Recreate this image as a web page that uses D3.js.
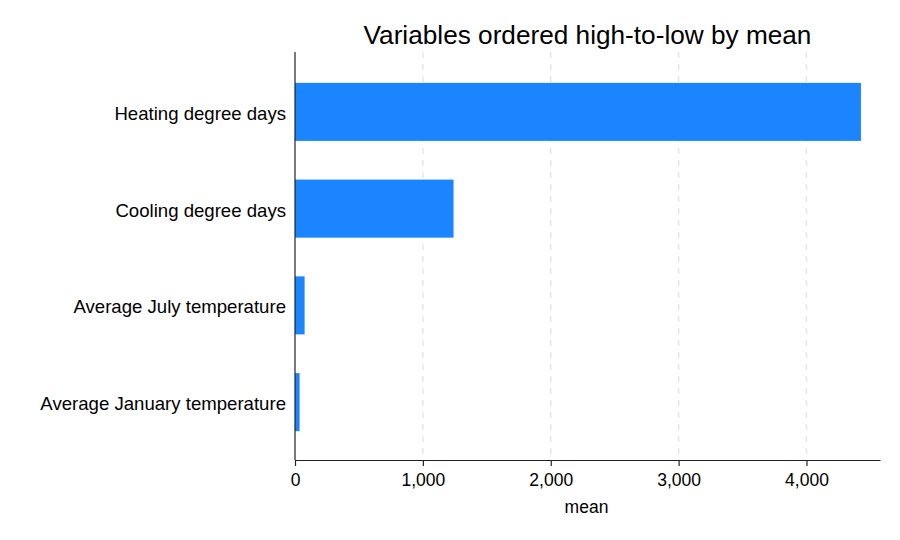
<!DOCTYPE html>
<html><head><meta charset="utf-8">
<script src="https://cdn.jsdelivr.net/npm/d3@7"></script>
<style>body{margin:0;background:#fff}svg{display:block}text{font-family:"Liberation Sans",Arial,Helvetica,sans-serif;fill:#000}</style>
</head><body>
<svg id="c" width="900" height="540"></svg>
<script>
const categories = ["Heating degree days","Cooling degree days","Average July temperature","Average January temperature"];
const means = [4426, 1240, 75.05, 35.75];
const xTicks = [0, 1000, 2000, 3000, 4000];
const title = "Variables ordered high-to-low by mean";
const xTitle = "mean";

const svg = d3.select("#c");
const L = 295, R = 880, T = 52, B = 460;
const x = d3.scaleLinear().domain([0, 4575]).range([L, R]);
const y = d3.scaleBand().domain(categories).range([T + 10.5, B - 10.5]).paddingInner(0.4).paddingOuter(0.2);

// grid
svg.append("g").selectAll("line").data(xTicks.slice(1)).join("line")
  .attr("x1", d => x(d)).attr("x2", d => x(d)).attr("y1", T).attr("y2", B)
  .attr("stroke", "#e6e6e6").attr("stroke-width", 1.5).attr("stroke-dasharray", "6,6");

// bars
svg.append("g").selectAll("rect").data(categories).join("rect")
  .attr("x", x(0)).attr("y", d => y(d) + 1)
  .attr("width", (d, i) => x(means[i]) - x(0)).attr("height", y.bandwidth())
  .attr("fill", "#1a85ff");

// x axis
const xa = svg.append("g").attr("transform", `translate(0,${B})`)
  .call(d3.axisBottom(x).tickValues(xTicks).tickFormat(d3.format(",")).tickSize(6).tickSizeOuter(0).tickPadding(8));
xa.select(".domain").attr("stroke", "#222").attr("stroke-width", 1.2);
xa.selectAll(".tick line").attr("stroke", "#222").attr("stroke-width", 1.2);
xa.selectAll(".tick text").attr("font-size", 17.5).style("font-family", '"Liberation Sans",Arial,sans-serif').attr("fill", "#000");

// y axis
const ya = svg.append("g").attr("transform", `translate(${L},0)`)
  .call(d3.axisLeft(y).tickSize(0).tickPadding(9));
ya.select(".domain").attr("d", `M0,${T}V${B}`).attr("stroke", "#222").attr("stroke-width", 1.2);
ya.selectAll(".tick text").attr("font-size", 18.6).attr("dy", "0.48em").style("font-family", '"Liberation Sans",Arial,sans-serif').attr("fill", "#000");

svg.append("text").attr("x", (L + R) / 2).attr("y", 44).attr("text-anchor", "middle")
  .attr("font-size", 26.2).text(title);
svg.append("text").attr("x", (L + R) / 2 - 1).attr("y", 513).attr("text-anchor", "middle")
  .attr("font-size", 17.5).text(xTitle);
</script>
</body></html>
